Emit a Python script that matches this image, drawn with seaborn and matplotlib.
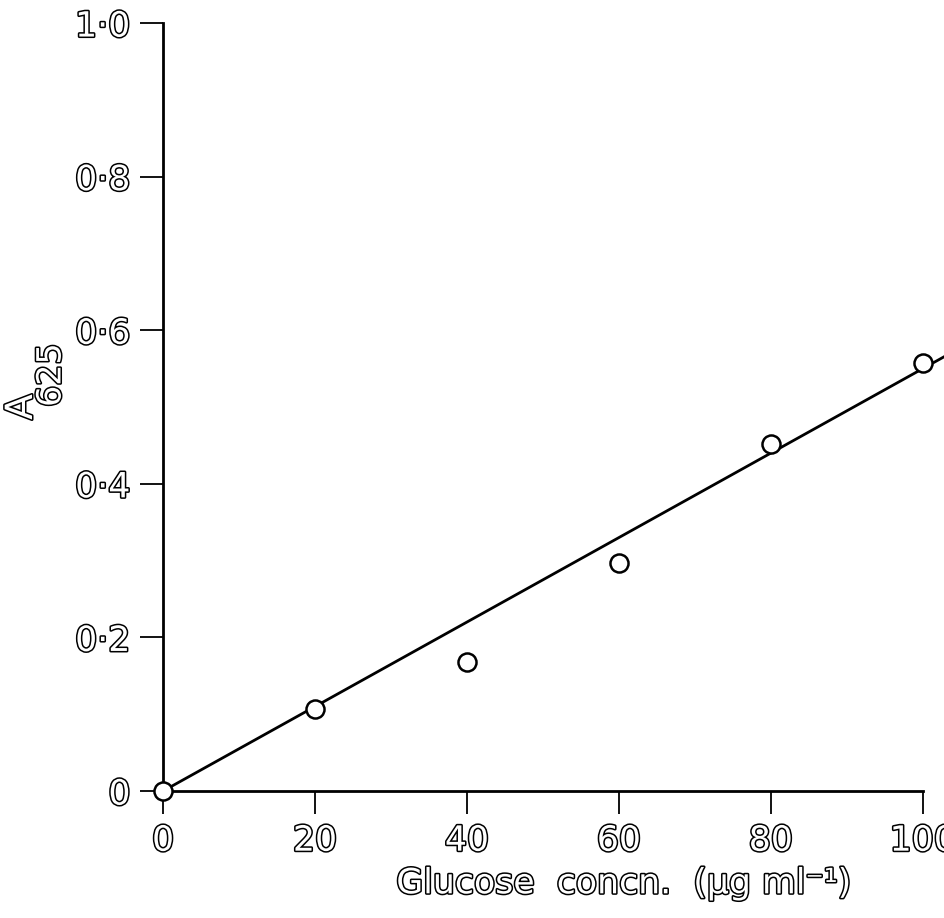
import matplotlib
matplotlib.use('Agg')
import matplotlib.pyplot as plt
import matplotlib.patheffects as pe
import pandas as pd
import seaborn as sns

# data
glucose = [0, 20, 40, 60, 80, 100]
absorbance = [0.0, 0.107, 0.168, 0.297, 0.452, 0.557]
fit_x = [1.2, 104]
fit_y = [0.0066, 0.572]
x_ticks = [0, 20, 40, 60, 80, 100]
x_ticklabels = ['0', '20', '40', '60', '80', '100']
y_ticks = [0, 0.2, 0.4, 0.6, 0.8, 1.0]
y_ticklabels = ['0', '0·2', '0·4', '0·6', '0·8', '1·0']

sns.set_style('ticks')
plt.rcParams['font.family'] = ['DejaVu Sans']

hollow = [pe.withStroke(linewidth=2.2, foreground='black')]

df = pd.DataFrame({'glucose': glucose, 'A625': absorbance})
fit = pd.DataFrame({'x': fit_x, 'y': fit_y})

fig = plt.figure(figsize=(9.44, 9.18), dpi=100)
ax = fig.add_axes([0.1727, 0.1383, 0.8273, 0.8366])

sns.lineplot(data=fit, x='x', y='y', ax=ax, color='black', linewidth=2.0, zorder=2)
ax.plot(df['glucose'], df['A625'], linestyle='none', marker='o', markersize=13,
        markerfacecolor='white', markeredgecolor='black', markeredgewidth=1.8,
        clip_on=False, zorder=3)

ax.set_xlim(0, 102.8)
ax.set_ylim(0, 1.0)
ax.spines['top'].set_visible(False)
ax.spines['right'].set_visible(False)
ax.spines['bottom'].set_bounds(0, 100)
for s in ['left', 'bottom']:
    ax.spines[s].set_linewidth(2.0)
    ax.spines[s].set_color('black')

ax.set_xticks(x_ticks)
ax.set_xticklabels(x_ticklabels)
ax.set_yticks(y_ticks)
ax.set_yticklabels(y_ticklabels)
ax.tick_params(axis='both', direction='out', length=16.5, width=1.3, color='black',
               labelsize=25, labelcolor='white', pad=7)
for lab in ax.get_xticklabels() + ax.get_yticklabels():
    lab.set_path_effects(hollow)

ax.set_xlabel('Glucose  concn.  (µg ml⁻¹)', fontsize=25, color='white',
              path_effects=hollow)
ax.xaxis.set_label_coords(0.59, -0.098)
ax.set_ylabel('')

# y label "A" with a full-size subscript "625", rotated like the original
fig.text(22 / 944, 1 - 407 / 918, 'A', rotation=90, ha='center', va='center',
         fontsize=27, color='white', path_effects=hollow)
fig.text(51 / 944, 1 - 375 / 918, '625', rotation=90, ha='center', va='center',
         fontsize=24, color='white', path_effects=hollow)

fig.savefig('out.png', dpi=100)
plt.close(fig)
